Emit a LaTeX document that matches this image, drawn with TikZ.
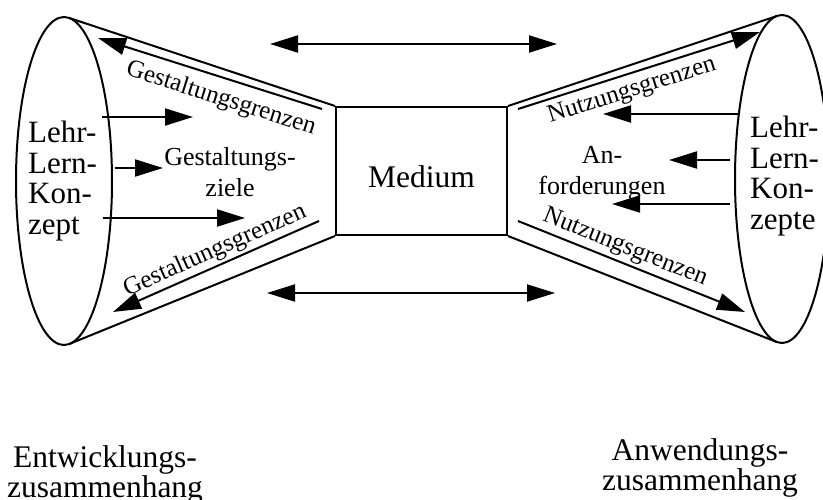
\documentclass[tikz,border=0pt]{standalone}
\usepackage{fontspec}
\setmainfont{Liberation Serif}
\usetikzlibrary{arrows.meta,shapes.geometric}
\begin{document}
\begin{tikzpicture}[x=1pt,y=-1pt,
  stroke/.style={line width=2pt},
  head/.style={line width=2pt,-{Triangle[length=28pt,width=17pt]}},
  twohead/.style={line width=2pt,{Triangle[length=28pt,width=17pt]}-{Triangle[length=28pt,width=17pt]}},
  bigtext/.style={font=\fontsize{31}{30.5}\selectfont, inner sep=0pt},
  midtext/.style={font=\fontsize{26}{31}\selectfont, inner sep=0pt, align=center},
  slopetext/.style={font=\fontsize{25}{27}\selectfont, inner sep=0pt},
  cone/.style={draw, ellipse, line width=2pt, inner sep=0pt, minimum width=96pt, minimum height=328pt},
]
\path[use as bounding box, clip] (0,0) rectangle (823,500);

% the two cone ends
\node[cone] (lell) at (64,181) {};
\node[cone, minimum width=94pt] (rell) at (782,179) {};

% central medium box
\node[draw, line width=2pt, minimum width=171pt, minimum height=128pt, inner sep=0pt,
      font=\fontsize{31.5}{32}\selectfont, text height=33pt, text depth=0pt] (medium) at (421.5,171) {Medium};

% tangent points of the cone outlines
\coordinate (ltop) at (68.7,17.8);
\coordinate (lbot) at (69.7,343.8);
\coordinate (rtop) at (777.5,15.8);
\coordinate (rbot) at (776.7,342);
\draw[stroke] (ltop) -- (medium.north west);
\draw[stroke] (lbot) -- (medium.south west);
\draw[stroke] (medium.north east) -- (rtop);
\draw[stroke] (medium.south east) -- (rbot);

% concept labels in the cone ends
\node[bigtext, align=left, anchor=north west] (lkon) at (28,121) {Lehr-\\Lern-\\Kon-\\zept};
\node[bigtext, align=left, anchor=north west] (rkon) at (750,116) {Lehr-\\Lern-\\Kon-\\zepte};

% design side
\coordinate (g1a) at (322,109); \coordinate (g1b) at (98,38);
\coordinate (g2a) at (319,221); \coordinate (g2b) at (113,312);
\draw[head] (g1a) -- (g1b);
\draw[head] (g2a) -- (g2b);
\node[slopetext, rotate=-17.6] (g1t) at (221,99) {Gestaltungsgrenzen};
\node[slopetext, rotate=23.9] (g2t) at (215,251) {Gestaltungsgrenzen};

\node[midtext] (ziele) at (230,172) {Gestaltungs-\\ziele};
\coordinate (za1) at (102,117); \coordinate (zb1) at (193,117);
\coordinate (za2) at (115,168); \coordinate (zb2) at (163,168);
\coordinate (za3) at (103,218); \coordinate (zb3) at (245,218);
\draw[head] (za1) -- (zb1);
\draw[head] (za2) -- (zb2);
\draw[head] (za3) -- (zb3);

% usage side
\coordinate (n1a) at (518,109); \coordinate (n1b) at (760,32);
\coordinate (n2a) at (518,221); \coordinate (n2b) at (745,312);
\draw[head] (n1a) -- (n1b);
\draw[head] (n2a) -- (n2b);
\node[slopetext, rotate=17.65] (n1t) at (632,91) {Nutzungsgrenzen};
\node[slopetext, rotate=-21.85] (n2t) at (625,248) {Nutzungsgrenzen};

\node[midtext] (anf) at (602,173) {An-\\forderungen};
\coordinate (aa1) at (738,114); \coordinate (ab1) at (603,114);
\coordinate (aa2) at (730,160); \coordinate (ab2) at (669,160);
\coordinate (aa3) at (730,204); \coordinate (ab3) at (612,204);
\draw[head] (aa1) -- (ab1);
\draw[head] (aa2) -- (ab2);
\draw[head] (aa3) -- (ab3);

% exchange arrows above and below the medium
\coordinate (ta) at (270,44); \coordinate (tb) at (557,44);
\coordinate (ba) at (267,293); \coordinate (bb) at (555,293);
\draw[twohead] (ta) -- (tb);
\draw[twohead] (ba) -- (bb);

% contexts (base anchor sits on the last line)
\node[bigtext, align=center, font=\fontsize{31.5}{30}\selectfont, anchor=base] (entw) at (105,497) {Entwicklungs-\\zusammenhang};
\node[bigtext, align=center, font=\fontsize{31.5}{30}\selectfont, anchor=base] (anw) at (700,490) {Anwendungs-\\zusammenhang};
\end{tikzpicture}
\end{document}
